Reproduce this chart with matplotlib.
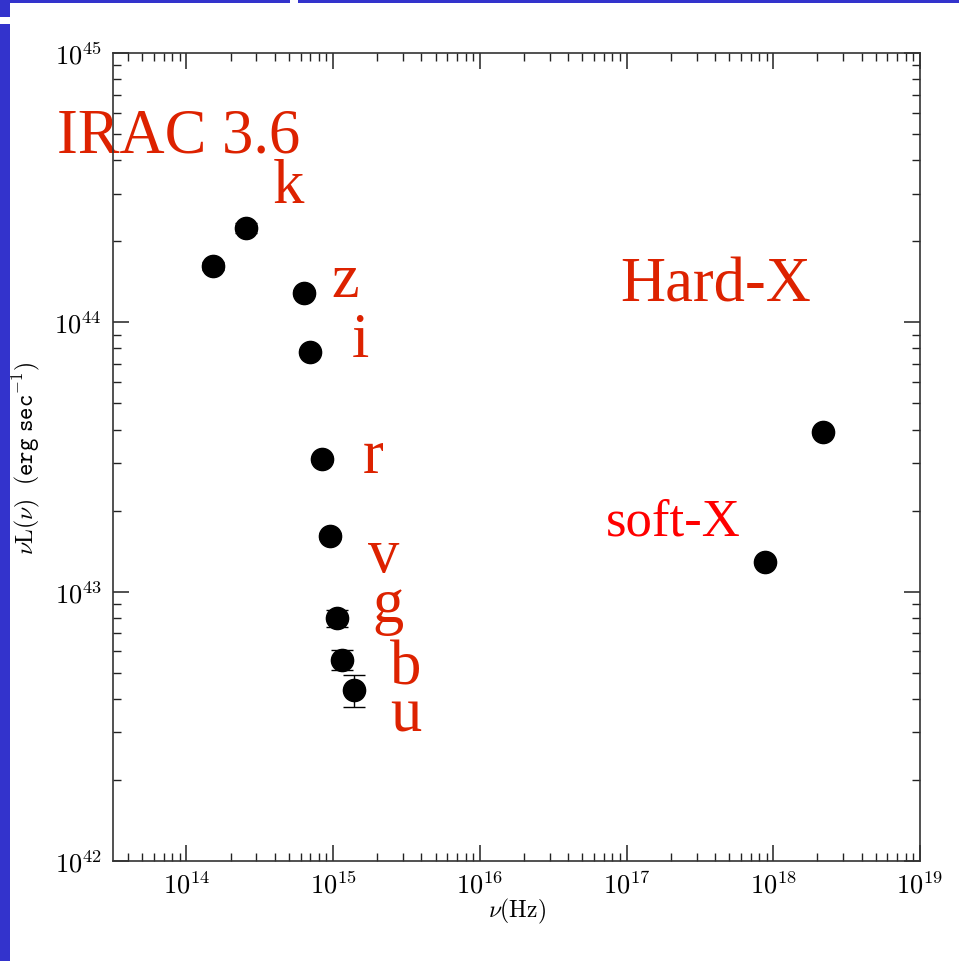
import math

import matplotlib
matplotlib.use("Agg")
import matplotlib.pyplot as plt
from matplotlib.patches import Rectangle
from matplotlib.ticker import LogLocator, FuncFormatter, NullFormatter

# data: rest-frame frequency (Hz) and nuL_nu (erg/s)
nu = [1.53e14, 2.55e14, 6.31e14, 7.0e14, 8.45e14, 9.6e14, 1.07e15, 1.15e15, 1.38e15, 8.81e17, 2.18e18]
lum = [1.62e44, 2.24e44, 1.29e44, 7.78e43, 3.11e43, 1.61e43, 7.98e42, 5.58e42, 4.32e42, 1.29e43, 3.93e43]
lum_err = [0.05e44, 0.10e44, 0.03e44, 0.1e43, 0.05e43, 0.04e43, 0.6e42, 0.47e42, 0.58e42, 0.0, 0.0]

band_labels = ["IRAC 3.6", "k", "z", "i", "r", "v", "g", "b", "u", "Hard-X", "soft-X"]
# label anchor positions in axes fraction (left, baseline)
label_pos = [(-0.069, 0.8775), (0.198, 0.8156), (0.271, 0.6993), (0.296, 0.625),
             (0.309, 0.4814), (0.316, 0.3589), (0.321, 0.297), (0.343, 0.2191),
             (0.343, 0.1621), (0.628, 0.6931), (0.611, 0.4047)]
label_size = [45, 45, 45, 45, 45, 45, 45, 45, 45, 45, 38]
label_col = ["#dd2200"] * 10 + ["#ff0000"]

BLUE = "#3333cc"
W, H = 959, 962

plt.rcParams.update({"mathtext.fontset": "cm", "font.size": 16})
fig = plt.figure(figsize=(W / 100, H / 100), dpi=100)
fig.patch.set_facecolor("white")

# slide frame
for x0, y0, w, h in [(0, 0, 10, 18), (10, 0, 280, 4), (298, 0, 661, 4), (0, 25, 10, 937)]:
    fig.add_artist(Rectangle((x0 / W, 1 - (y0 + h) / H), w / W, h / H,
                             transform=fig.transFigure, color=BLUE, lw=0))

ax = fig.add_axes([113 / W, (H - 862) / H, 807 / W, 808 / H])
ax.set_xscale("log")
ax.set_yscale("log")
ax.set_xlim(10 ** 13.5, 1e19)
ax.set_ylim(1e42, 1e45)

ax.errorbar(nu, lum, yerr=lum_err, fmt="o", color="black", ms=16,
            ecolor="black", elinewidth=1.0, capsize=8, capthick=1.0, zorder=4)

for txt, (px, py), fs, c in zip(band_labels, label_pos, label_size, label_col):
    ax.text(px, py, txt, transform=ax.transAxes, fontsize=fs, color=c,
            family="Liberation Serif", ha="left", va="baseline", zorder=1)

for a in (ax.xaxis, ax.yaxis):
    a.set_major_locator(LogLocator(base=10, numticks=20))
    a.set_minor_locator(LogLocator(base=10, subs=range(2, 10), numticks=20))
    a.set_major_formatter(FuncFormatter(lambda v, p: r"$10^{%d}$" % round(math.log10(v))))
    a.set_minor_formatter(NullFormatter())

ax.tick_params(which="both", direction="in", top=True, right=True, color="#222222")
ax.tick_params(which="major", length=11.5, width=1.1, pad=8, labelsize=19)
ax.tick_params(which="minor", length=5.8, width=1.0)
for s in ax.spines.values():
    s.set_color("#333333")
    s.set_linewidth(1.2)
    s.set_zorder(2.5)

ax.set_xlabel(r"$\nu(\mathrm{Hz})$", fontsize=17)
ax.set_ylabel(r"$\nu\mathrm{L}(\nu)\ \ \mathtt{(erg\ sec^{-1})}$", fontsize=17)
ax.xaxis.set_label_coords(0.5, -0.043)
ax.yaxis.set_label_coords(-0.088, 0.5)

fig.savefig("out.png", dpi=100)
